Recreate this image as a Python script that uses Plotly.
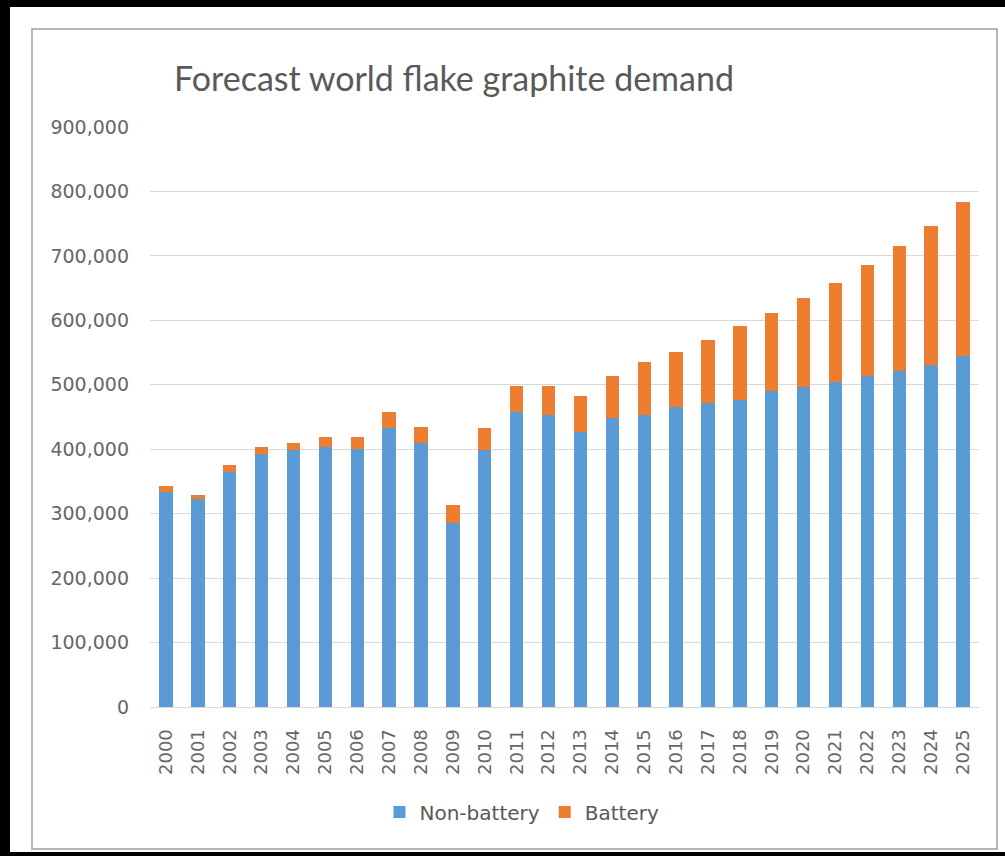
import plotly.graph_objects as go

years = [str(y) for y in range(2000, 2026)]
non_battery = [334000, 323000, 364000, 393000, 399000, 404000, 400000, 433000, 409000, 285000,
               399000, 458000, 453000, 427000, 448000, 453000, 465000, 471000, 477000, 491000,
               497000, 505000, 513000, 522000, 530000, 544000]
battery = [9000, 6000, 12000, 10000, 10000, 15000, 19000, 25000, 25000, 29000,
           34000, 40000, 45000, 56000, 66000, 83000, 86000, 98000, 114000, 121000,
           137000, 153000, 173000, 194000, 217000, 240000]
y_ticks = [0, 100000, 200000, 300000, 400000, 500000, 600000, 700000, 800000, 900000]
title_text = "Forecast world flake graphite demand"

W, H = 1005, 856
L, R = 150, 979   # plot area x pixels
T, B = 127, 707   # plot area y pixels

def px(x):
    return (x - L) / (R - L)

def py(y):
    return (B - y) / (B - T)

fig = go.Figure()
fig.add_trace(go.Bar(x=years, y=non_battery, name="Non-battery", marker_color="#5B9BD5",
                     marker_line_width=0))
fig.add_trace(go.Bar(x=years, y=battery, name="Battery", marker_color="#ED7D31",
                     marker_line_width=0))

fig.update_layout(
    width=W, height=H,
    margin=dict(l=L, r=W - R, t=T, b=H - B, pad=0),
    paper_bgcolor="black",
    plot_bgcolor="white",
    barmode="stack",
    bargap=0.58,
    title=dict(text=title_text, x=px(174), xref="paper", xanchor="left",
               y=1 - 79 / H, yref="container", yanchor="middle",
               font=dict(family="Lato", size=34, color="#595959")),
    legend=dict(orientation="h", x=px(522), xanchor="center", y=py(812), yanchor="middle",
                font=dict(family="DejaVu Sans", size=20, color="#595959"),
                bgcolor="rgba(0,0,0,0)", itemwidth=30, traceorder="normal"),
    shapes=[
        dict(type="rect", xref="paper", yref="paper", x0=px(10), x1=px(1010), y0=py(852), y1=py(7),
             fillcolor="white", line_width=0, layer="below"),
        dict(type="rect", xref="paper", yref="paper", x0=px(32), x1=px(997), y0=py(849), y1=py(29),
             fillcolor="rgba(0,0,0,0)", line=dict(color="#a0a0a0", width=1.5), layer="below"),
    ],
)
fig.update_yaxes(range=[0, 900000], tickvals=y_ticks, tickformat=",", showgrid=True,
                 gridcolor="#d9d9d9", gridwidth=1, zeroline=True, zerolinecolor="#d9d9d9",
                 zerolinewidth=1, showline=False, ticks="", ticklabelstandoff=20,
                 tickfont=dict(family="DejaVu Sans", size=19, color="#666666"))
fig.update_xaxes(type="category", tickangle=-90, showgrid=False, showline=True,
                 linecolor="#d9d9d9", ticks="", ticklabelstandoff=14,
                 tickfont=dict(family="DejaVu Sans", size=18, color="#666666"))

fig.write_html("out.html", config={"displayModeBar": False},
               post_script="document.body.style.margin='0';document.body.style.background='black';")
